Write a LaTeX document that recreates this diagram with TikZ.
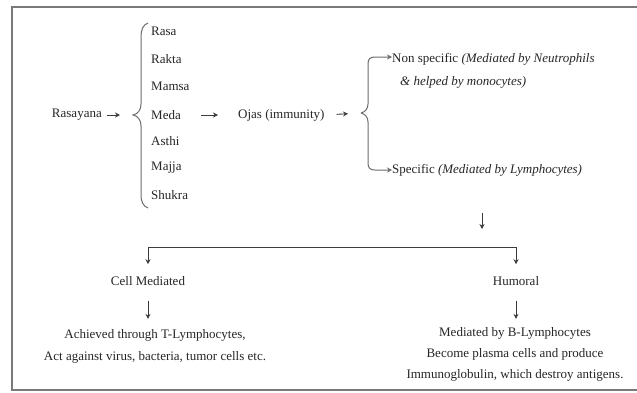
\documentclass[tikz,border=0pt]{standalone}
\usepackage{fontspec}
\setmainfont{Liberation Serif}
\usetikzlibrary{arrows.meta,calc}
\definecolor{txt}{HTML}{262626}
\definecolor{ln}{HTML}{3C3C3C}
\definecolor{frm}{HTML}{7A7A7A}
\begin{document}
\begin{tikzpicture}[x=1pt,y=-1pt,
  lbl/.style={font=\fontsize{13}{15}\selectfont, text=txt, inner sep=0pt},
  arr/.style={draw=ln, line width=0.9pt, -{Stealth[length=5pt,width=5pt]}},
  plain/.style={draw=ln, line width=0.9pt},
  brc/.style={draw=ln!75, line width=1pt}]
\useasboundingbox (0,0) rectangle (637,392);
\fill[white] (0,0) rectangle (637,392);
\draw[frm, line width=1.3pt] (12,7) rectangle (645,390);

% left part
\node[lbl, anchor=east] (ras) at (102,115) {Rasayana};
\coordinate (b1) at (133,115);
\node[lbl, anchor=west] (rasa)  at (151,31)  {Rasa};
\node[lbl, anchor=west] (rakta) at (151,59)  {Rakta};
\node[lbl, anchor=west] (mamsa) at (151,86)  {Mamsa};
\node[lbl, anchor=west] (meda)  at (151,115) {Meda};
\node[lbl, anchor=west] (asthi) at (151,141) {Asthi};
\node[lbl, anchor=west] (majja) at (151,168) {Majja};
\node[lbl, anchor=west] (shukra) at (151,195) {Shukra};
\node[lbl, anchor=west] (ojas) at (238,115) {Ojas (immunity)};
\coordinate (b2) at (361,113);

\draw[arr, shorten <=5pt, shorten >=13pt] (ras.east) -- (b1);
\draw[brc] (148,23) .. controls (143,25) and (141,29) .. (141,38) -- (141,104)
  .. controls (141,110) and (138,114) .. (b1)
  .. controls (138,116) and (141,120) .. (141,126) -- (141,194)
  .. controls (141,202) and (143,206) .. (148,208);
\draw[arr, shorten <=20pt, shorten >=20pt] (meda.east) -- (ojas.west);
\draw[arr, shorten <=12pt, shorten >=13pt] (ojas.east) -- (b2);

% right branch
\node[lbl, anchor=west] (nons) at (392,59) {Non specific \textit{(Mediated by Neutrophils}};
\node[lbl, anchor=west] (nons2) at (400,82) {\textit{\& helped by monocytes)}};
\node[lbl, anchor=west] (spec) at (392,170) {Specific \textit{(Mediated by Lymphocytes)}};

\draw[brc, -{Stealth[length=5pt,width=5pt]}] (b2) .. controls (365,112) and (368,109) .. (368,104) -- (368,64)
  .. controls (368,59) and (370,57) .. (375,57) -- (nons.west |- 0,57);
\draw[brc, -{Stealth[length=5pt,width=5pt]}] (b2) .. controls (365,114) and (368,117) .. (368,122) -- (368,163)
  .. controls (368,168) and (370,170) .. (375,170) -- (spec.west);

\coordinate (dtop) at (482,213);
\coordinate (dbot) at (482,229);
\draw[arr] (dtop) -- (dbot);

% lower part
\node[lbl] (cell) at (148,281) {Cell Mediated};
\node[lbl] (hum) at (516,281) {Humoral};
\coordinate (hl) at (148,247);
\coordinate (hr) at (516,247);
\draw[plain] (hl) -- (hr);
\draw[arr, shorten >=12pt] (hl) -- (cell.north);
\draw[arr, shorten >=12pt] (hr) -- (hum.north);

\node[lbl, align=center, font=\fontsize{13}{22}\selectfont] (celld) at (155,346) {Achieved through T-Lymphocytes,\\Act against virus, bacteria, tumor cells etc.};
\node[lbl, align=center, font=\fontsize{13}{21}\selectfont] (humd) at (515,354) {Mediated by B-Lymphocytes\\Become plasma cells and produce\\Immunoglobulin, which destroy antigens.};

\draw[arr, shorten <=15pt, shorten >=10pt] (cell.south) -- (cell.south |- celld.north);
\draw[arr, shorten <=15pt, shorten >=8pt] (hum.south) -- (hum.south |- humd.north);
\end{tikzpicture}
\end{document}
